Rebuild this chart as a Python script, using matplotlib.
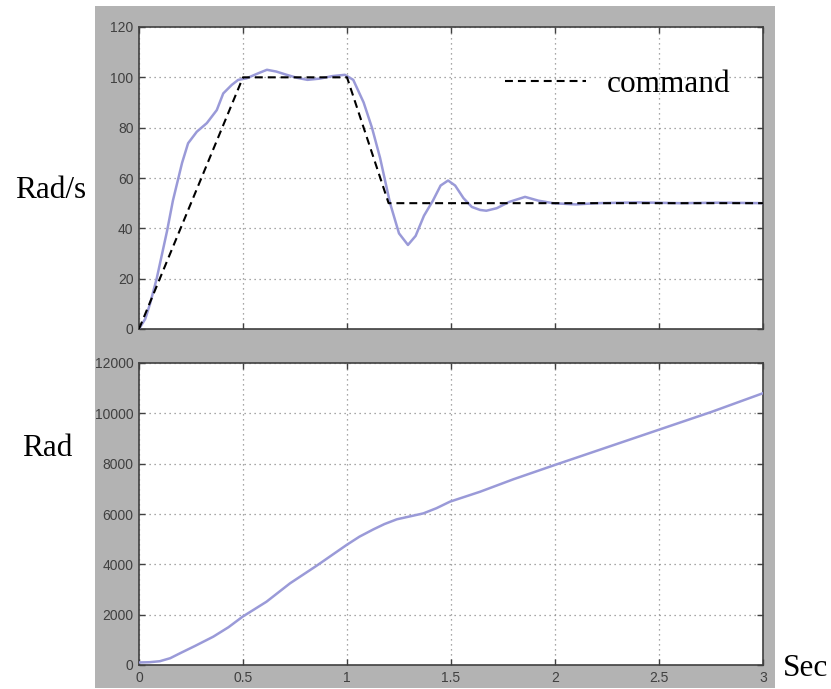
import matplotlib.pyplot as plt
from matplotlib.patches import Rectangle
from matplotlib.lines import Line2D
import numpy as np

# speed response (Rad/s)
t_speed = [0, 0.03, 0.053, 0.085, 0.135, 0.163, 0.207, 0.236, 0.278, 0.326, 0.374,
           0.405, 0.446, 0.477, 0.517, 0.57, 0.615, 0.66, 0.71, 0.76, 0.81, 0.87,
           0.93, 0.99, 1.03, 1.08, 1.12, 1.159, 1.207, 1.25, 1.293, 1.33, 1.37,
           1.413, 1.45, 1.486, 1.52, 1.56, 1.6, 1.64, 1.67, 1.72, 1.78, 1.856,
           1.92, 1.99, 2.1, 2.2, 2.4, 2.6, 2.8, 3.0]
speed = [0, 4, 10, 20, 39, 51, 66, 73.8, 78.4, 81.8, 87,
         93.6, 97, 99, 99.6, 101.5, 103, 102.3, 101, 99.8, 99, 99.5,
         100.5, 101, 99, 90, 80, 68, 50, 38, 33.4, 37, 45,
         51, 57, 59, 57, 52, 48.5, 47.3, 47, 48, 50.5, 52.5,
         51, 50, 49.5, 50, 50.3, 50, 50.2, 50]

# speed command
t_cmd = [0, 0.5, 1.0, 1.2, 3.0]
cmd = [0, 100, 100, 50, 50]

# position (Rad)
t_pos = [0, 0.05, 0.1, 0.15, 0.197, 0.27, 0.357, 0.43, 0.498, 0.613, 0.726,
         0.854, 0.998, 1.06, 1.127, 1.18, 1.24, 1.3, 1.367, 1.43, 1.495,
         1.64, 1.8, 2.0, 2.25, 2.5, 2.75, 3.0]
pos = [100, 110, 150, 270, 465, 760, 1125, 1500, 1920, 2515, 3245,
       3945, 4770, 5100, 5390, 5600, 5790, 5900, 6025, 6230, 6490,
       6885, 7380, 7950, 8650, 9350, 10050, 10800]

W, H = 831, 689
fig = plt.figure(figsize=(W / 100, H / 100), dpi=100)
fig.patch.set_facecolor('white')
fig.add_artist(Rectangle((95 / W, 1 - 688 / H), 680 / W, 682 / H,
                         transform=fig.transFigure, facecolor='#b3b3b3',
                         edgecolor='none', zorder=0))

blue = '#9a9ad8'
serif = 'Liberation Serif'


def style(ax):
    ax.set_facecolor('white')
    ax.set_xlim(0, 3)
    ax.set_xticks(np.arange(0, 3.01, 0.5))
    ax.set_xticklabels(['0', '0.5', '1', '1.5', '2', '2.5', '3'])
    ax.tick_params(direction='in', length=4, width=1, color='#404040',
                   top=True, right=True, labelcolor='#404040', pad=4)
    for lab in ax.get_xticklabels() + ax.get_yticklabels():
        lab.set_fontfamily('Liberation Sans')
        lab.set_fontsize(10)
    for s in ax.spines.values():
        s.set_color('#404040')
        s.set_linewidth(1.2)
    ax.grid(True, color='#8a8a8a', linestyle=(0, (1, 3)), linewidth=0.9)
    ax.set_axisbelow(True)


ax1 = fig.add_axes([139 / W, 1 - 329 / H, 624 / W, 302 / H])
ax1.set_ylim(0, 120)
ax1.set_yticks(range(0, 121, 20))
ax1.plot(t_speed, speed, color=blue, lw=1.8, zorder=3)
ax1.plot(t_cmd, cmd, color='black', lw=1.5, dashes=(3.8, 2.4), zorder=4)
style(ax1)
ax1.set_xticklabels([])

handle = Line2D([], [], color='black', lw=1.5, dashes=(3.8, 2.4))
ax1.legend([handle], ['command'], loc='center left',
           bbox_to_anchor=((505 - 139) / 624, (329 - 84) / 302),
           frameon=False, borderpad=0, borderaxespad=0, handlelength=2.6,
           handletextpad=0.65, prop=dict(family=serif, size=22.5))

ax2 = fig.add_axes([139 / W, 1 - 665 / H, 624 / W, 302 / H])
ax2.set_ylim(0, 12000)
ax2.set_yticks(range(0, 12001, 2000))
ax2.plot(t_pos, pos, color=blue, lw=1.8, zorder=3)
style(ax2)

fig.text(15 / W, 1 - 198 / H, 'Rad/s', family=serif, size=22.5, va='baseline')
fig.text(22 / W, 1 - 456 / H, 'Rad', family=serif, size=22.5, va='baseline')
fig.text(783 / W, 1 - 676 / H, 'Sec', family=serif, size=22.5, va='baseline')

fig.savefig('out.png', dpi=100)
